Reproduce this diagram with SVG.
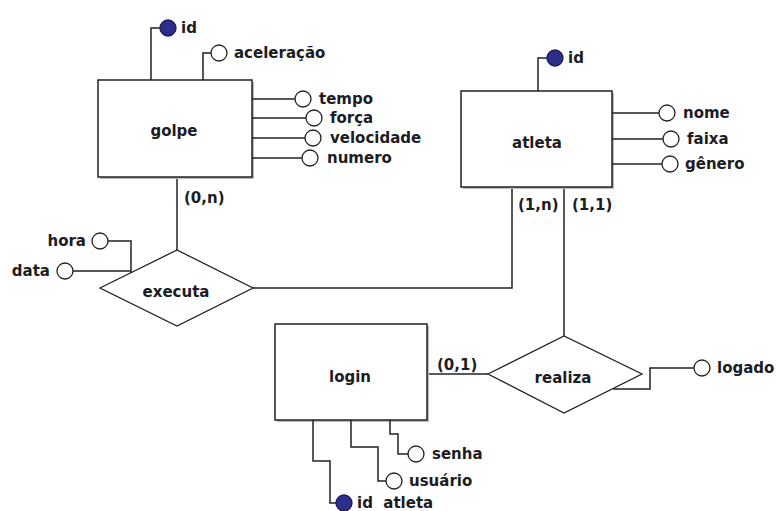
<svg xmlns="http://www.w3.org/2000/svg" width="777" height="511" viewBox="0 0 777 511">
<style>
text{font-family:"DejaVu Sans","Liberation Sans",sans-serif;font-weight:bold;font-size:15px;fill:#1c1c24}
.ent{fill:#fff;stroke:#222;stroke-width:1.5}
.sh{fill:#bbb}
.rel{fill:#fff;stroke:#222;stroke-width:1.3}
.ln{fill:none;stroke:#222;stroke-width:1.5}
.att{fill:#fff;stroke:#222;stroke-width:1.3}
.key{fill:#2d2d8a;stroke:#1a1a55;stroke-width:1.3}
.c{text-anchor:middle}
.r{text-anchor:end}
</style>
<rect width="777" height="511" fill="#fff"/>
<g id="connectors">
<path class="ln" d="M177,177 V250"/>
<path class="ln" d="M512,187 V288 H253"/>
<path class="ln" d="M564,187 V336"/>
<path class="ln" d="M427,374 H488"/>
</g>
<g id="golpe">
<rect class="sh" x="100" y="82" width="154" height="97"/>
<rect class="ent" x="98" y="80" width="154" height="97"/>
<text class="c" x="174" y="136">golpe</text>
</g>
<g id="golpe-id">
<path class="ln" d="M151,80 V28 H160"/>
<circle class="key" cx="168" cy="28" r="8"/>
<text x="181" y="33">id</text>
</g>
<g id="golpe-aceleracao">
<path class="ln" d="M203,80 V53 H211"/>
<circle class="att" cx="219" cy="53" r="8"/>
<text x="234" y="58">aceleração</text>
</g>
<g id="golpe-tempo">
<path class="ln" d="M252,99 H295"/>
<circle class="att" cx="303" cy="99" r="8"/>
<text x="319" y="104">tempo</text>
</g>
<g id="golpe-forca">
<path class="ln" d="M252,118 H306"/>
<circle class="att" cx="314" cy="118" r="8"/>
<text x="330" y="123">força</text>
</g>
<g id="golpe-velocidade">
<path class="ln" d="M252,138 H305"/>
<circle class="att" cx="313" cy="138" r="8"/>
<text x="330" y="143">velocidade</text>
</g>
<g id="golpe-numero">
<path class="ln" d="M252,158 H302"/>
<circle class="att" cx="310" cy="158" r="8"/>
<text x="327" y="163">numero</text>
</g>
<g id="atleta">
<rect class="sh" x="463" y="93" width="151" height="96"/>
<rect class="ent" x="461" y="91" width="151" height="96"/>
<text class="c" x="537" y="148">atleta</text>
</g>
<g id="atleta-id">
<path class="ln" d="M538,91 V58 H547"/>
<circle class="key" cx="555" cy="58" r="8"/>
<text x="568" y="63">id</text>
</g>
<g id="atleta-nome">
<path class="ln" d="M612,113 H659"/>
<circle class="att" cx="667" cy="113" r="8"/>
<text x="683" y="118">nome</text>
</g>
<g id="atleta-faixa">
<path class="ln" d="M612,139 H663"/>
<circle class="att" cx="671" cy="139" r="8"/>
<text x="687" y="144">faixa</text>
</g>
<g id="atleta-genero">
<path class="ln" d="M612,164 H662"/>
<circle class="att" cx="670" cy="164" r="8"/>
<text x="685" y="169">gênero</text>
</g>
<g id="executa">
<polygon class="rel" points="100,288 177,250 253,288 177,326"/>
<text class="c" x="176" y="297">executa</text>
</g>
<g id="executa-hora">
<path class="ln" d="M108,241 H131 V273"/>
<circle class="att" cx="100" cy="241" r="8"/>
<text class="r" x="86" y="246">hora</text>
</g>
<g id="executa-data">
<path class="ln" d="M73,271 H131"/>
<circle class="att" cx="65" cy="271" r="8"/>
<text class="r" x="50" y="276">data</text>
</g>
<g id="login">
<rect class="sh" x="277" y="326" width="152" height="96"/>
<rect class="ent" x="275" y="324" width="152" height="96"/>
<text class="c" x="350" y="382">login</text>
</g>
<g id="login-senha">
<path class="ln" d="M390,420 V434 H398 V454 H408"/>
<circle class="att" cx="416" cy="454" r="8"/>
<text x="432" y="459">senha</text>
</g>
<g id="login-usuario">
<path class="ln" d="M351,420 V447 H378 V481 H386"/>
<circle class="att" cx="394" cy="481" r="8"/>
<text x="409" y="486">usuário</text>
</g>
<g id="login-idatleta">
<path class="ln" d="M313,420 V461 H330 V503 H336"/>
<circle class="key" cx="344" cy="503" r="8"/>
<text x="357" y="508" xml:space="preserve">id  atleta</text>
</g>
<g id="realiza">
<polygon class="rel" points="488,374 564,336 642,374 564,413"/>
<text class="c" x="563" y="383">realiza</text>
</g>
<g id="realiza-logado">
<path class="ln" d="M613,389 H650 V368 H694"/>
<circle class="att" cx="702" cy="368" r="8"/>
<text x="717" y="373">logado</text>
</g>
<g id="labels">
<text x="184" y="203">(0,n)</text>
<text x="518" y="210">(1,n)</text>
<text x="572" y="210">(1,1)</text>
<text x="437" y="370">(0,1)</text>
</g>
</svg>
